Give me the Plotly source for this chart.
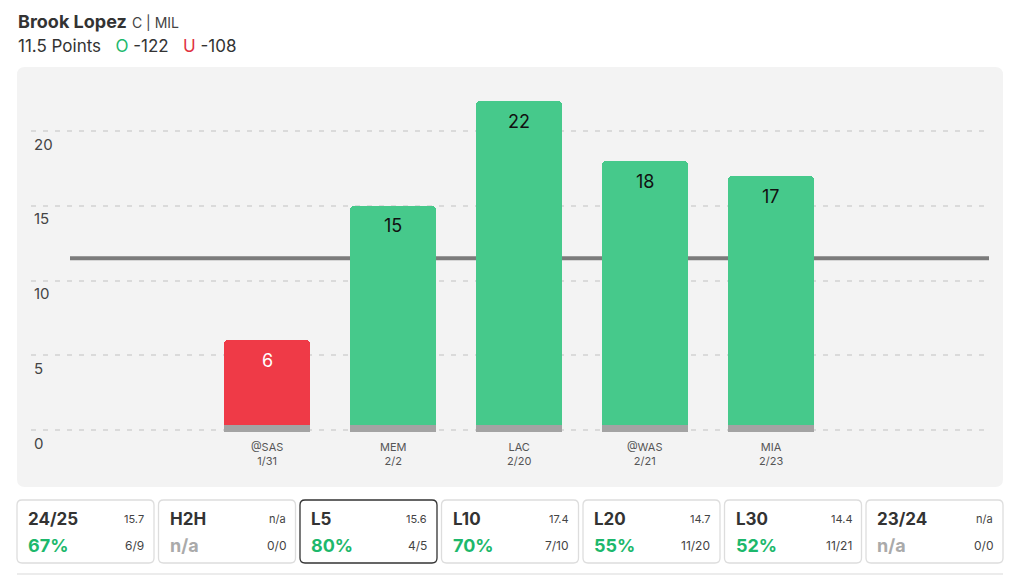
import plotly.graph_objects as go

# ---------------- data ----------------
opponents = ["@SAS", "MEM", "LAC", "@WAS", "MIA"]
dates = ["1/31", "2/2", "2/20", "2/21", "2/23"]
points = [6, 15, 22, 18, 17]
line_value = 11.5
y_ticks = [0, 5, 10, 15, 20]

player = "Brook Lopez"
player_meta = "C | MIL"
prop_label = "11.5 Points"
over_odds = "-122"
under_odds = "-108"

card_titles = ["24/25", "H2H", "L5", "L10", "L20", "L30", "23/24"]
card_avgs = ["15.7", "n/a", "15.6", "17.4", "14.7", "14.4", "n/a"]
card_pcts = ["67%", "n/a", "80%", "70%", "55%", "52%", "n/a"]
card_fracs = ["6/9", "0/0", "4/5", "7/10", "11/20", "11/21", "0/0"]
selected_card = "L5"

# ---------------- style ----------------
GREEN = "#46c98b"
RED = "#ef3a47"
STRIP = "#a3a3a3"
PCT_GREEN = "#1db86c"
FONT = "Inter"

W, H = 1024, 584
ML, MR, MT, MB = 31, 35, 79, 139
PW, PH = W - ML - MR, H - MT - MB


def px(x):
    return (x - ML) / PW


def py(y):
    return (H - MB - y) / PH


def rrect(x0, y0, x1, y1, r):
    X0, X1 = px(x0), px(x1)
    Y0, Y1 = py(y0), py(y1)  # Y0 top (larger), Y1 bottom
    rx, ry = r / PW, r / PH
    return (f"M {X0+rx},{Y0} L {X1-rx},{Y0} Q {X1},{Y0} {X1},{Y0-ry} "
            f"L {X1},{Y1+ry} Q {X1},{Y1} {X1-rx},{Y1} L {X0+rx},{Y1} "
            f"Q {X0},{Y1} {X0},{Y1+ry} L {X0},{Y0-ry} Q {X0},{Y0} {X0+rx},{Y0} Z")


colors = [GREEN if v > line_value else RED for v in points]
xs = list(range(len(points)))

fig = go.Figure()
fig.add_trace(go.Bar(
    x=xs, y=points, width=0.683, marker=dict(color=colors, cornerradius=4, line=dict(width=0)),
    hoverinfo="skip", showlegend=False,
))
fig.add_trace(go.Bar(
    x=xs, y=[0.47] * len(points), base=[-0.1] * len(points), width=0.683,
    marker=dict(color=STRIP, line=dict(width=0)), hoverinfo="skip", showlegend=False,
))

shapes = []
# chart panel
shapes.append(dict(type="path", path=rrect(17, 67, 1003, 487, 8), xref="paper", yref="paper",
                   fillcolor="#f3f3f3", line=dict(width=0), layer="below"))
# threshold line
shapes.append(dict(type="line", xref="paper", yref="y", x0=px(70), x1=1, y0=line_value, y1=line_value,
                   line=dict(color="#7b7b7b", width=4), layer="below"))

annotations = []
# bar value labels
for i, v in enumerate(points):
    annotations.append(dict(x=i, y=v, xref="x", yref="y", text=str(v), showarrow=False,
                            yshift=-20, font=dict(family=FONT, size=18,
                                                  color="#ffffff" if v <= line_value else "#111111")))
# x labels
for i, (o, d) in enumerate(zip(opponents, dates)):
    annotations.append(dict(x=i, y=0, xref="x", yref="y", text=f"{o}<br>{d}", showarrow=False,
                            yanchor="top", yshift=-8, font=dict(family=FONT, size=11, color="#555555")))
# y labels (below gridlines)
for t in y_ticks:
    annotations.append(dict(x=px(32), y=t, xref="paper", yref="y", text=str(t), showarrow=False,
                            xanchor="left", yshift=-13, font=dict(family=FONT, size=15, color="#444444")))

# header
annotations.append(dict(x=px(16), y=py(21), xref="paper", yref="paper", xanchor="left", yanchor="middle",
                        showarrow=False,
                        text=f"<b>{player}</b> <span style='font-size:14px;color:#444444'>{player_meta}</span>",
                        font=dict(family=FONT, size=18, color="#333333")))
annotations.append(dict(x=px(16), y=py(46), xref="paper", yref="paper", xanchor="left", yanchor="middle",
                        showarrow=False,
                        text=(f"{prop_label}   <span style='color:{PCT_GREEN}'>O</span> {over_odds}   "
                              f"<span style='color:#e0323f'>U</span> {under_odds}"),
                        font=dict(family=FONT, size=17, color="#333333")))

# cards
card_w, card_step = 137, 141.5
cy0, cy1 = 500, 563
for i, (t, a, p, f) in enumerate(zip(card_titles, card_avgs, card_pcts, card_fracs)):
    x0 = 17 + i * card_step
    x1 = x0 + card_w
    sel = t == selected_card
    shapes.append(dict(type="path", path=rrect(x0, cy0, x1, cy1, 5), xref="paper", yref="paper",
                       fillcolor="#ffffff", line=dict(color="#333333" if sel else "#dddddd", width=1.3)))
    annotations.append(dict(x=px(x0 + 9), y=py(519), xref="paper", yref="paper", xanchor="left",
                            yanchor="middle", showarrow=False, text=f"<b>{t}</b>",
                            font=dict(family=FONT, size=17, color="#333333")))
    annotations.append(dict(x=px(x1 - 8), y=py(519), xref="paper", yref="paper", xanchor="right",
                            yanchor="middle", showarrow=False, text=a,
                            font=dict(family=FONT, size=11, color="#444444")))
    annotations.append(dict(x=px(x0 + 9), y=py(545), xref="paper", yref="paper", xanchor="left",
                            yanchor="middle", showarrow=False, text=f"<b>{p}</b>",
                            font=dict(family=FONT, size=18, color="#aaaaaa" if p == "n/a" else PCT_GREEN)))
    annotations.append(dict(x=px(x1 - 8), y=py(545), xref="paper", yref="paper", xanchor="right",
                            yanchor="middle", showarrow=False, text=f,
                            font=dict(family=FONT, size=12, color="#444444")))

# bottom separator
shapes.append(dict(type="line", xref="paper", yref="paper", x0=px(17), x1=px(1003), y0=py(574), y1=py(574),
                   line=dict(color="#e6e6e6", width=1.3)))

fig.update_layout(
    width=W, height=H, margin=dict(l=ML, r=MR, t=MT, b=MB, autoexpand=False),
    paper_bgcolor="#ffffff", plot_bgcolor="rgba(0,0,0,0)",
    barmode="overlay", bargap=0, showlegend=False,
    xaxis=dict(range=[-1.873, 5.730], showgrid=False, zeroline=False, showticklabels=False,
               showline=False, fixedrange=True),
    yaxis=dict(range=[-1, 23.5], tickvals=y_ticks, showticklabels=False, zeroline=False,
               showgrid=True, gridcolor="#dadada", gridwidth=1.5, griddash="5px,7px",
               showline=False, fixedrange=True),
    shapes=shapes, annotations=annotations,
    font=dict(family=FONT),
)

fig.write_html("out.html", config={"displayModeBar": False},
               post_script="document.body.style.margin='0';document.body.style.overflow='hidden';")
